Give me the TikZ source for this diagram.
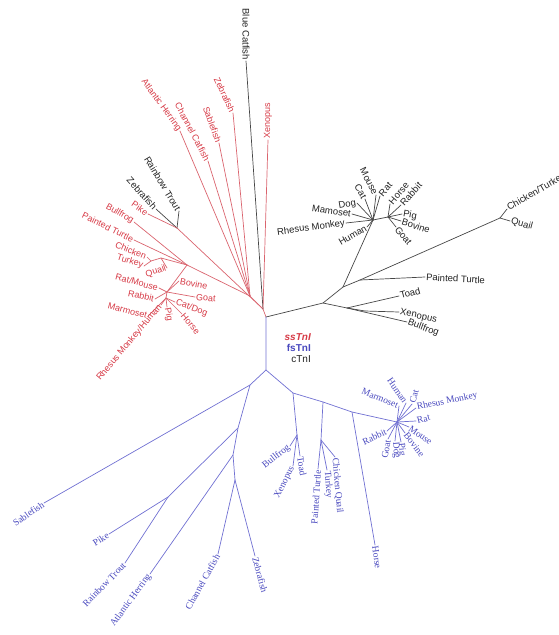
\documentclass[tikz,border=0pt]{standalone}
\usepackage{fontspec}
\setmainfont{Liberation Sans}
\newfontfamily\serfont{Liberation Serif}
\usepackage{tikz}
\usetikzlibrary{calc}
\definecolor{ssred}{RGB}{214,58,70}
\definecolor{ssline}{RGB}{218,100,110}
\definecolor{fsblue}{RGB}{72,72,190}
\definecolor{fsline}{RGB}{112,112,210}
\definecolor{cblack}{RGB}{35,35,35}
\definecolor{cline}{RGB}{70,70,70}

\begin{document}
\begin{tikzpicture}[x=1pt, y=-1pt, line join=round, line cap=round,
  rline/.style={ssline, line width=0.7pt},
  bline/.style={fsline, line width=0.7pt},
  kline/.style={cline, line width=0.7pt},
  rlab/.style={ssred, font=\fontsize{9}{10}\selectfont, inner sep=1pt},
  blab/.style={fsblue, font=\serfont\fontsize{9.5}{10}\selectfont, inner sep=1pt},
  klab/.style={cblack, font=\fontsize{9.5}{10}\selectfont, inner sep=1pt}]
\useasboundingbox (0,0) rectangle (559,635);

% inner points of the tree
\coordinate (C) at (266,317);
\coordinate (R1) at (263,309); \coordinate (R2) at (250,296);
\coordinate (T) at (177,228);  \coordinate (Q) at (187,265);
\coordinate (BN) at (161,258); \coordinate (CT) at (151,261);
\coordinate (M) at (167,292);  \coordinate (M2) at (166,298);
\coordinate (K1) at (323,303); \coordinate (K2) at (343,287); \coordinate (K3) at (360,280);
\coordinate (KT) at (347,308); \coordinate (KX) at (365,311);
\coordinate (MM) at (373,220); \coordinate (MR) at (388,217); \coordinate (BB) at (500,218);
\coordinate (BL0) at (266,370); \coordinate (BL1) at (250,385); \coordinate (BL2) at (238,428);
\coordinate (P) at (168,497);  \coordinate (BL3) at (233,455); \coordinate (BL4) at (235,480);
\coordinate (BR1) at (293,393); \coordinate (BF) at (297,435); \coordinate (BR2) at (323,402);
\coordinate (TK) at (321,440); \coordinate (BR3) at (352,412); \coordinate (BM) at (397,422);

% ssTnI
\draw[rline] (C) -- (R1) -- (R2) -- (Q);
\draw[rline] (R1) -- (T);
\draw[rline] (Q) -- (BN) -- (CT);
\draw[rline] (Q) -- (M) -- (M2);
\node[klab, rotate=-90, anchor=east] (bcK) at (246,61) {Blue Catfish};
\draw[kline] (R1) -- (bcK.east);
\node[rlab, rotate=90, anchor=west] (xnR) at (268,140) {Xenopus};
\draw[rline] (R1) -- (xnR.west);
\foreach \nm/\px/\py/\ang/\anc/\txt in {zfR/233/113/-65/east/Zebrafish, sbR/219/143/-70/east/Sablefish,
    ccR/208/161/-62/east/Channel Catfish, ahR/180/131/-54/east/Atlantic Herring}
  {\node[rlab, rotate=\ang, anchor=\anc] (\nm) at (\px,\py) {\txt};
   \draw[rline] (R2) -- (\nm.\anc);}
\foreach \nm/\px/\py/\ang/\anc/\txt in {rtK/179/211/-59/east/Rainbow Trout, zfK/156/209/-48/east/Zebrafish}
  {\node[klab, rotate=\ang, anchor=\anc] (\nm) at (\px,\py) {\txt};
   \draw[kline] (T) -- (\nm.\anc);}
\node[rlab, rotate=-35, anchor=east] (pkR) at (148,214) {Pike};
\draw[rline] (T) -- (pkR.east);
\foreach \nm/\px/\py/\ang/\anc/\txt in {bfR/134/222/-30/east/Bullfrog, ptR/134/240/-26/east/Painted Turtle}
  {\node[rlab, rotate=\ang, anchor=\anc] (\nm) at (\px,\py) {\txt};
   \draw[rline] (Q) -- (\nm.\anc);}
\foreach \nm/\px/\py/\ang/\anc/\txt in {chR/147/257/-22/east/Chicken, tkR/144/266/-18/east/Turkey}
  {\node[rlab, rotate=\ang, anchor=\anc] (\nm) at (\px,\py) {\txt};
   \draw[rline] (CT) -- (\nm.\anc);}
\node[rlab, rotate=18, anchor=east] (quR) at (167,268) {Quail};
\draw[rline] (BN) -- (quR.east);
\foreach \nm/\px/\py/\ang/\anc/\txt in {rmR/159/288/-15/east/{Rat/Mouse}, rbR/155/299/-12/east/Rabbit,
    bvR/179/281/-10/west/Bovine, gtR/195/297/-5/west/Goat}
  {\node[rlab, rotate=\ang, anchor=\anc] (\nm) at (\px,\py) {\txt};
   \draw[rline] (M) -- (\nm.\anc);}
\foreach \nm/\px/\py/\ang/\anc/\txt in {mmR/148/316/-15/east/Marmoset, rhR/161/305/50/east/{Rhesus Monkey/Human},
    pgR/167/307/-80/west/Pig, cdR/175/302/-20/west/{Cat/Dog}, hsR/182/314/-50/west/Horse}
  {\node[rlab, rotate=\ang, anchor=\anc] (\nm) at (\px,\py) {\txt};
   \draw[rline] (M2) -- (\nm.\anc);}

% cTnI
\draw[kline] (C) -- (K1) -- (K2) -- (K3) -- (BB);
\draw[kline] (K2) -- (MM) -- (MR);
\draw[kline] (K1) -- (KT) -- (KX);
\node[klab, rotate=-20, anchor=west] (bfK) at (407,322) {Bullfrog};
\draw[kline] (KT) -- (bfK.west);
\node[klab, rotate=15, anchor=west] (toK) at (399,296) {Toad};
\draw[kline] (KT) -- (toK.west);
\node[klab, rotate=-12, anchor=west] (xnK) at (399,312) {Xenopus};
\draw[kline] (KX) -- (xnK.west);
\node[klab, rotate=-3, anchor=west] (ptK) at (425,277) {Painted Turtle};
\draw[kline] (K3) -- (ptK.west);
\node[klab, rotate=30, anchor=west] (ctK) at (507,209) {Chicken/Turkey};
\draw[kline] (BB) -- (ctK.west);
\node[klab, rotate=-15, anchor=west] (quK) at (510,221) {Quail};
\draw[kline] (BB) -- (quK.west);
\foreach \nm/\px/\py/\ang/\anc/\txt in {muK/376/195/-63/east/Mouse, raK/380/196/50/west/Rat,
    huK/367/227/30/east/Human, rmK/346/223/8/east/Rhesus Monkey, maK/352/214/-8/east/Mamoset,
    dgK/357/203/10/east/Dog, caK/365/199/-60/east/Cat}
  {\node[klab, rotate=\ang, anchor=\anc] (\nm) at (\px,\py) {\txt};
   \draw[kline] (MM) -- (\nm.\anc);}
\foreach \nm/\px/\py/\ang/\anc/\txt in {hoK/390/204/50/west/Horse, rbK/401/205/48/west/Rabbit,
    pgK/402/214/-10/west/Pig, bvK/401/221/-18/west/Bovine, goK/396/227/-50/west/Goat}
  {\node[klab, rotate=\ang, anchor=\anc] (\nm) at (\px,\py) {\txt};
   \draw[kline] (MR) -- (\nm.\anc);}

% fsTnI
\draw[bline] (C) -- (BL0) -- (BL1) -- (BL2) -- (BL3) -- (BL4);
\draw[bline] (BL2) -- (P);
\draw[bline] (BL0) -- (BR1) -- (BR2) -- (BR3) -- (BM);
\draw[bline] (BR1) -- (BF);
\draw[bline] (BR2) -- (TK);
\node[blab, rotate=35, anchor=east] (sbB) at (44,503) {Sablefish};
\draw[bline] (BL1) -- (sbB.east);
\foreach \nm/\px/\py/\ang/\anc/\txt in {pkB/109/534/32/east/Pike, rtB/125/563/46/east/Rainbow Trout}
  {\node[blab, rotate=\ang, anchor=\anc] (\nm) at (\px,\py) {\txt};
   \draw[bline] (P) -- (\nm.\anc);}
\node[blab, rotate=54, anchor=east] (ahB) at (150,574) {Atlantic Herring};
\draw[bline] (BL3) -- (ahB.east);
\foreach \nm/\px/\py/\ang/\anc/\txt in {ccB/218/554/61/east/Channel Catfish, zfB/255/556/-75/west/Zebrafish}
  {\node[blab, rotate=\ang, anchor=\anc] (\nm) at (\px,\py) {\txt};
   \draw[bline] (BL4) -- (\nm.\anc);}
\foreach \nm/\px/\py/\ang/\anc/\txt in {bfB/290/446/38/east/Bullfrog, xnB/293/466/63/east/Xenopus,
    toB/300/456/-80/west/Toad}
  {\node[blab, rotate=\ang, anchor=\anc] (\nm) at (\px,\py) {\txt};
   \draw[bline] (BF) -- (\nm.\anc);}
\node[blab, rotate=86, anchor=east] (ptB) at (318,469) {Painted Turtle};
\draw[bline] (TK) -- (ptB.east);
\foreach \nm/\px/\py/\ang/\anc/\txt in {tkB/327/470/-86/west/Turkey, cqB/335/457/-85/west/Chicken Quail}
  {\node[blab, rotate=\ang, anchor=\anc] (\nm) at (\px,\py) {\txt};
   \draw[bline] (TK) -- (\nm.\anc);}
\node[blab, rotate=-82, anchor=west] (hsB) at (375,545) {Horse};
\draw[bline] (BR3) -- (hsB.west);
\foreach \nm/\px/\py/\ang/\anc/\txt in {huB/406/403/-55/east/Human, mmB/399/406/-22/east/Marmoset,
    caB/412/404/75/west/Cat, rhB/416/408/12/west/Rhesus Monkey, raB/416/421/15/west/Rat,
    msB/409/427/-35/west/Mouse, bvB/405/433/-52/west/Bovine, pgB/401/442/-85/west/Pig,
    dgB/395/441/-85/west/Dog, gtB/388/439/80/east/Goat, rbB/387/431/25/east/Rabbit}
  {\node[blab, rotate=\ang, anchor=\anc] (\nm) at (\px,\py) {\txt};
   \draw[bline] (BM) -- (\nm.\anc);}

% legend
\node[anchor=east, inner sep=0pt, ssred, font=\bfseries\itshape\fontsize{10}{11}\selectfont] (lgss) at (311,337) {ssTnI};
\node[anchor=east, inner sep=0pt, fsblue, font=\bfseries\fontsize{10}{11}\selectfont] (lgfs) at (311,348) {fsTnI};
\node[anchor=east, inner sep=0pt, cblack, font=\fontsize{10}{11}\selectfont] (lgc) at (311,359) {cTnI};
\end{tikzpicture}
\end{document}
